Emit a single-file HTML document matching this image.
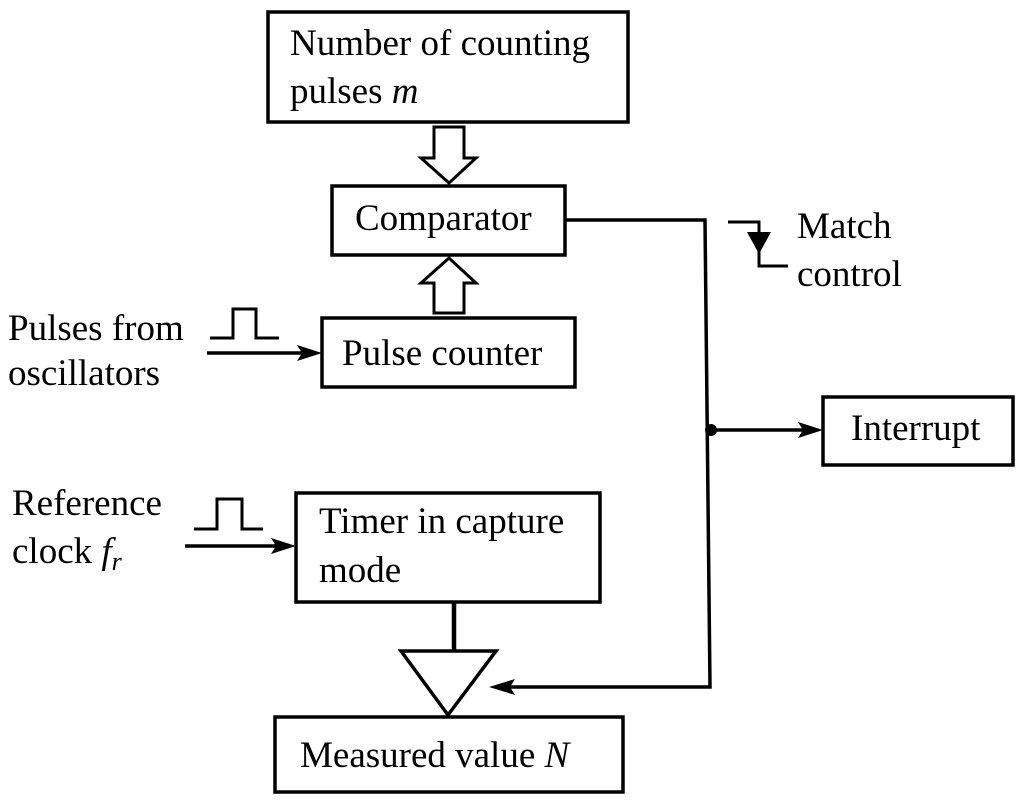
<!DOCTYPE html>
<html><head><meta charset="utf-8"><style>
html,body{margin:0;padding:0;background:#fff}
svg{display:block}
text{font-family:"Liberation Serif",serif;font-size:37px;fill:#000}
</style></head><body>
<svg width="1024" height="803" viewBox="0 0 1024 803" xmlns="http://www.w3.org/2000/svg">
<g fill="none" stroke="#000" stroke-width="3.5">
<rect x="268" y="12" width="360" height="110"/>
<rect x="332" y="186" width="233" height="69"/>
<rect x="322" y="318" width="253" height="69"/>
<rect x="296" y="493" width="304" height="109"/>
<rect x="275" y="717" width="348" height="75"/>
<rect x="823" y="397" width="190" height="68"/>
<!-- hollow down arrow -->
<polygon points="434,127 464,127 464,158 476,158 449,183 421,158 434,158" stroke-width="3"/>
<!-- hollow up arrow -->
<polygon points="434,313 464,313 464,283 476,283 449,258 421,283 434,283" stroke-width="3"/>
<!-- comparator output -->
<polyline points="565,220 705,220 710,687 500,687"/>
<line x1="711" y1="430" x2="812" y2="430"/>
<!-- pulses -->
<polyline points="210,338 233,338 233,309 256,309 256,338 279,338" stroke-width="3"/>
<line x1="207" y1="353" x2="310" y2="353"/>
<polyline points="194,529 217,529 217,499 242,499 242,529 263,529" stroke-width="3"/>
<line x1="185" y1="546" x2="285" y2="546"/>
<!-- timer to triangle -->
<line x1="454" y1="602" x2="454" y2="650" stroke-width="4.5"/>
<polygon points="401,651 496,651 448,715"/>
<!-- match control -->
<polyline points="728,222 759,222 759,266 788,266" stroke-width="3"/>
</g>
<polygon points="747,232 771,232 759,254" fill="#000"/>
<circle cx="711" cy="430" r="6" fill="#000"/>
<g fill="#000">
<polygon points="322,353 297,345 302,353 297,361"/>
<polygon points="296,546 271,538 276,546 271,554"/>
<polygon points="823,430 798,422 803,430 798,438"/>
<polygon points="489,687 515,679 510,687 515,695"/>
</g>
<text x="290" y="55">Number of counting</text>
<text x="290" y="103">pulses <tspan font-style="italic">m</tspan></text>
<text x="355" y="230">Comparator</text>
<text x="342" y="365">Pulse counter</text>
<text x="319" y="533">Timer in capture</text>
<text x="319" y="582">mode</text>
<text x="300" y="767">Measured value <tspan font-style="italic">N</tspan></text>
<text x="851" y="440">Interrupt</text>
<text x="797" y="238">Match</text>
<text x="797" y="286">control</text>
<text x="8" y="340">Pulses from</text>
<text x="8" y="385">oscillators</text>
<text x="12" y="515">Reference</text>
<text x="12" y="563">clock <tspan font-style="italic">f</tspan><tspan font-style="italic" font-size="26" dy="7">r</tspan></text>
</svg>
</body></html>
